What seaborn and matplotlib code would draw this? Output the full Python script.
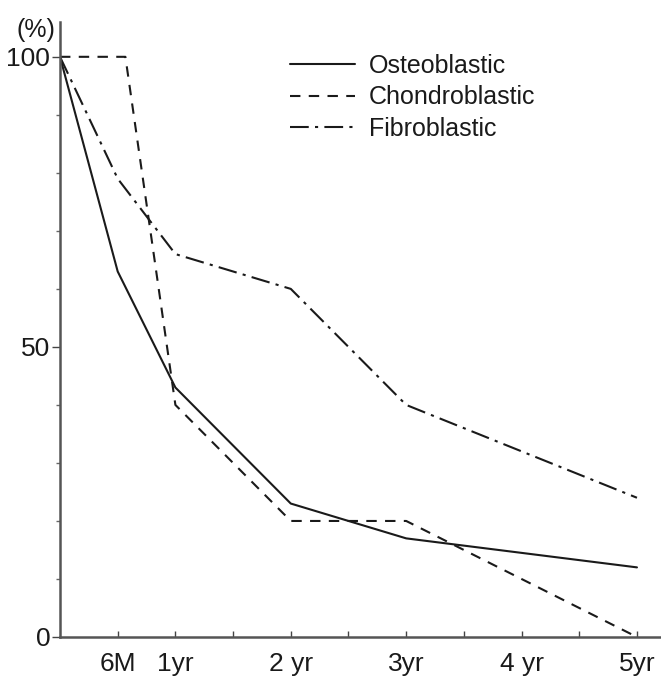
import matplotlib
matplotlib.use("Agg")
import matplotlib.pyplot as plt
import seaborn as sns
import pandas as pd
from matplotlib.ticker import MultipleLocator, FixedLocator

# ---- data (months since start, % surviving) ----
months = [0, 6, 12, 24, 36, 48, 60]
osteoblastic = [100, 63, 43, 23, 17, 14.5, 12]
chondro_months = [0, 6.8, 12, 24, 36, 60]
chondroblastic = [100, 100, 40, 20, 20, 0]
fibroblastic = [100, 79, 66, 60, 40, 32, 24]

series_names = ["Osteoblastic", "Chondroblastic", "Fibroblastic"]
tick_months = [6, 12, 24, 36, 48, 60]
tick_labels = ["6M", "1yr", "2 yr", "3yr", "4 yr", "5yr"]
y_labels = [0, 50, 100]

rows = []
for m, v in zip(months, osteoblastic):
    rows.append((m, v, "Osteoblastic"))
for m, v in zip(chondro_months, chondroblastic):
    rows.append((m, v, "Chondroblastic"))
for m, v in zip(months, fibroblastic):
    rows.append((m, v, "Fibroblastic"))
df = pd.DataFrame(rows, columns=["month", "pct", "type"])

sns.set_style("white")
plt.rcParams["font.family"] = ["Liberation Sans", "DejaVu Sans"]

fig = plt.figure(figsize=(6.61, 6.79), dpi=100)
ax = fig.add_axes([60 / 661, (679 - 637) / 679, 1 - 60 / 661, (637 - 22) / 679])

ink = "#1a1a1a"
sns.lineplot(data=df, x="month", y="pct", style="type", style_order=series_names,
             dashes={"Osteoblastic": "", "Chondroblastic": (5, 4),
                     "Fibroblastic": (9, 3, 1.5, 3)},
             color=ink, linewidth=1.5, ax=ax, sort=False, estimator=None)

ax.set_xlim(0, 62.5)
ax.set_ylim(0, 106)
ax.set_xlabel("")
ax.set_ylabel("")

for s in ["top", "right"]:
    ax.spines[s].set_visible(False)
for s in ["left", "bottom"]:
    ax.spines[s].set_color("#555555")
    ax.spines[s].set_linewidth(1.8)

ax.xaxis.set_major_locator(FixedLocator(tick_months))
ax.set_xticklabels(tick_labels)
ax.xaxis.set_minor_locator(FixedLocator([18, 30, 42, 54]))
ax.tick_params(axis="x", which="both", direction="in", length=4, width=1,
               color="#444444", pad=11, labelsize=19, labelcolor=ink,
               bottom=True)

ax.yaxis.set_major_locator(FixedLocator(y_labels))
ax.set_yticklabels([str(v) for v in y_labels])
ax.yaxis.set_minor_locator(MultipleLocator(10))
ax.tick_params(axis="y", which="major", direction="out", length=6, width=1,
               color="#444444", pad=1, labelsize=19, labelcolor=ink, left=True)
ax.tick_params(axis="y", which="minor", direction="out", length=3, width=1,
               color="#666666", left=True)

handles, labels = ax.get_legend_handles_labels()
ax.legend(handles, labels, loc="upper left",
          bbox_to_anchor=(290 / 661, 1 - 54 / 679), bbox_transform=fig.transFigure,
          frameon=False, fontsize=18, handlelength=2.6, handletextpad=0.55,
          labelspacing=0.3, borderpad=0, borderaxespad=0, labelcolor=ink)

fig.text(17 / 661, 1 - 30 / 679, "(%)", fontsize=18, color=ink, va="center", ha="left")

fig.savefig("out.png", dpi=100)
